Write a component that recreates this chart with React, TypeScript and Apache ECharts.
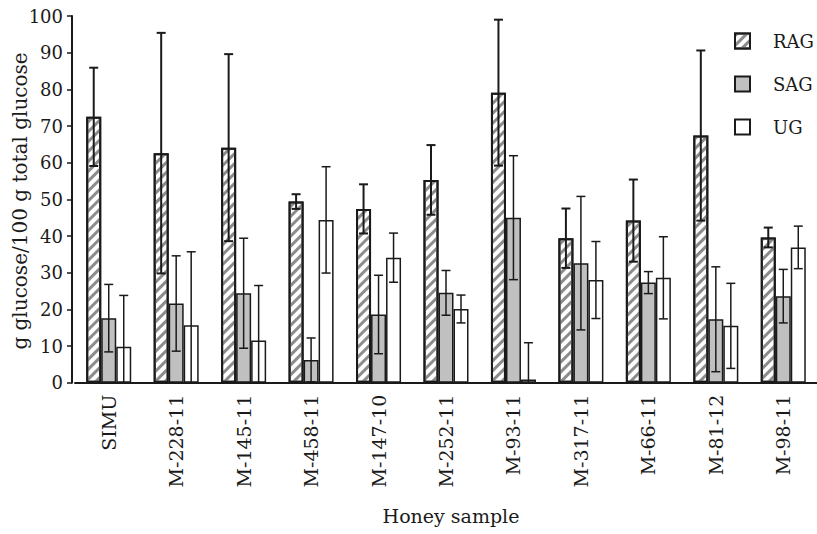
import React, { useEffect, useRef } from "react";
import * as echarts from "echarts";

const categories = ["SIMU", "M-228-11", "M-145-11", "M-458-11", "M-147-10", "M-252-11", "M-93-11", "M-317-11", "M-66-11", "M-81-12", "M-98-11"];
const ragValues = [72.5, 62.6, 64.1, 49.4, 47.4, 55.3, 79.1, 39.4, 44.2, 67.4, 39.6];
const ragErrors = [13.4, 32.8, 25.5, 2.0, 6.7, 9.5, 19.9, 8.1, 11.2, 23.2, 2.7];
const sagValues = [17.6, 21.6, 24.4, 6.2, 18.6, 24.5, 45.0, 32.6, 27.3, 17.3, 23.6];
const sagErrors = [9.2, 13.0, 15.0, 6.0, 10.7, 6.1, 16.9, 18.2, 3.0, 14.3, 7.3];
const ugValues = [9.8, 15.7, 11.5, 44.4, 34.1, 20.1, 0.9, 28.0, 28.6, 15.5, 36.9];
const ugErrors = [14.0, 20.0, 15.0, 14.5, 6.7, 3.8, 10.0, 10.5, 11.2, 11.6, 5.8];
const yTicks = { min: 0, max: 100, interval: 10 };

const FONT = "DejaVu Serif";
const INK = "#1a1a1a";
const BAR_W = 15;

function errorSeries(name: string, values: number[], errors: number[], dx: number, lw: number) {
  return {
    type: "custom",
    name: name + "-err",
    silent: true,
    clip: false,
    z: 10,
    data: values.map((v, i) => [i, v, errors[i]]),
    encode: { x: 0, y: 1 },
    renderItem: (params: any, api: any) => {
      const i = api.value(0);
      const v = api.value(1);
      const e = api.value(2);
      const top = api.coord([i, v + e]);
      const bot = api.coord([i, Math.max(0, v - e)]);
      const x = top[0] + dx;
      const cap = 4.5;
      const style = { stroke: INK, lineWidth: lw };
      return {
        type: "group",
        children: [
          { type: "line", shape: { x1: x, y1: top[1], x2: x, y2: bot[1] }, style },
          { type: "line", shape: { x1: x - cap, y1: top[1], x2: x + cap, y2: top[1] }, style },
          { type: "line", shape: { x1: x - cap, y1: bot[1], x2: x + cap, y2: bot[1] }, style },
        ],
      };
    },
  };
}

export default function App() {
  const ref = useRef<HTMLDivElement>(null);
  useEffect(() => {
    if (!ref.current) return;
    const chart = echarts.init(ref.current, undefined, { renderer: "svg" });
    chart.setOption({
      animation: false,
      backgroundColor: "#ffffff",
      textStyle: { fontFamily: FONT },
      grid: { left: 75, top: 16, width: 752, bottom: 151.3, containLabel: false },
      legend: {
        orient: "vertical",
        left: 729,
        top: 27,
        itemWidth: 15,
        itemHeight: 15,
        itemGap: 25,
        icon: "rect",
        data: ["RAG", "SAG", "UG"],
        textStyle: { fontFamily: FONT, fontSize: 18, color: INK, padding: [0, 0, 0, 18], lineHeight: 18 },
      },
      xAxis: {
        type: "category",
        data: categories,
        axisLine: { lineStyle: { color: INK, width: 2 } },
        axisTick: { show: false },
        axisLabel: { rotate: 90, margin: 12, fontFamily: FONT, fontSize: 19, color: INK, interval: 0 },
      },
      yAxis: {
        type: "value",
        min: yTicks.min,
        max: yTicks.max,
        interval: yTicks.interval,
        offset: 3,
        splitLine: { show: false },
        axisLine: { show: true, lineStyle: { color: INK, width: 2 } },
        axisTick: { show: true, length: 5, lineStyle: { color: INK, width: 1.5 } },
        axisLabel: { margin: 9, fontFamily: FONT, fontSize: 18, color: INK },
      },
      graphic: [
        {
          type: "text",
          x: 20,
          y: 201,
          rotation: Math.PI / 2,
          style: { text: "g glucose/100 g total glucose", fontFamily: FONT, fontSize: 20, fill: INK, align: "center", verticalAlign: "middle" },
        },
        {
          type: "text",
          x: 451,
          y: 516,
          style: { text: "Honey sample", fontFamily: FONT, fontSize: 19, fill: INK, align: "center", verticalAlign: "middle" },
        },
      ],
      series: [
        {
          type: "bar",
          name: "RAG",
          data: ragValues,
          barWidth: BAR_W,
          barGap: "0%",
          itemStyle: {
            color: "#ffffff",
            borderColor: INK,
            borderWidth: 2,
            decal: { symbol: "rect", dashArrayX: [1, 0], dashArrayY: [2.5, 4], rotation: -Math.PI / 4, color: "#8c8c8c", symbolSize: 1 },
          },
        },
        {
          type: "bar",
          name: "SAG",
          data: sagValues,
          barWidth: BAR_W,
          barGap: "0%",
          itemStyle: { color: "#c0c0c0", borderColor: INK, borderWidth: 1.5 },
        },
        {
          type: "bar",
          name: "UG",
          data: ugValues,
          barWidth: BAR_W,
          barGap: "0%",
          itemStyle: { color: "#ffffff", borderColor: INK, borderWidth: 1.5 },
        },
        errorSeries("RAG", ragValues, ragErrors, -BAR_W, 2),
        errorSeries("SAG", sagValues, sagErrors, 0, 1.5),
        errorSeries("UG", ugValues, ugErrors, BAR_W, 1.5),
      ],
    });
    return () => chart.dispose();
  }, []);
  return <div ref={ref} style={{ width: 817, height: 534, position: "absolute", left: 0, top: 0 }} />;
}
